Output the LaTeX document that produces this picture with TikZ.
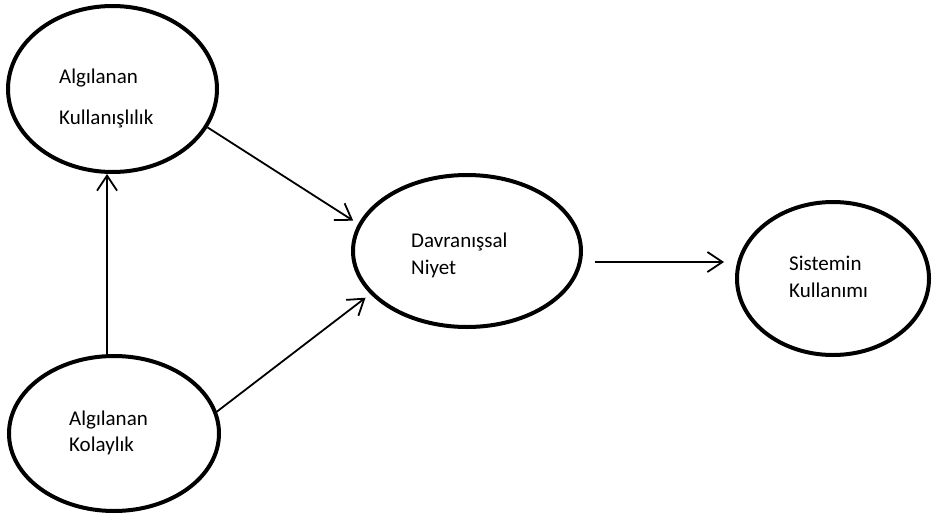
\documentclass[tikz,border=0pt]{standalone}
\usepackage{fontspec}
\setmainfont{Carlito}
\usetikzlibrary{shapes.geometric,arrows.meta,calc}
\begin{document}
\begin{tikzpicture}[x=1pt,y=-1pt,
  bub/.style={ellipse,draw,line width=4pt,inner sep=0pt},
  lbl/.style={anchor=base west,inner sep=0pt,font=\fontsize{21}{25}\selectfont},
  arr/.style={line width=1.8pt,-{Straight Barb[length=15pt,width=20pt]}}]
\useasboundingbox (0,0) rectangle (932,517);
% ellipses
\node[bub,minimum width=209pt,minimum height=166pt] (e1) at (112.5,89) {};
\node[bub,minimum width=210pt,minimum height=155pt] (e2) at (114,433.5) {};
\node[bub,minimum width=228pt,minimum height=152pt] (e3) at (467,251) {};
\node[bub,minimum width=192pt,minimum height=153pt] (e4) at (833,278.5) {};
% labels
\node[lbl] (t1a) at (59,83) {Algılanan};
\node[lbl] (t1b) at (59,124) {Kullanışlılık};
\node[lbl] (t2a) at (69,425) {Algılanan};
\node[lbl] (t2b) at (69,451) {Kolaylık};
\node[lbl] (t3a) at (411,247) {Davranışsal};
\node[lbl] (t3b) at (411,274) {Niyet};
\node[lbl] (t4a) at (789,270) {Sistemin};
\node[lbl] (t4b) at (789,297) {Kullanımı};
% connectors
\draw[arr] (e2.95) -- (e2.95 |- e1.south);
\draw[arr,shorten >=6pt] (e1.-22) -- (e3.166);
\draw[arr,shorten >=6pt,shorten <=-3pt] (e2.12.5) -- (e3.204.7);
\draw[arr] ($(e3.east)+(12,11)$) -- ($(e3.east -| e4.west)+(-11,11)$);
\end{tikzpicture}
\end{document}
